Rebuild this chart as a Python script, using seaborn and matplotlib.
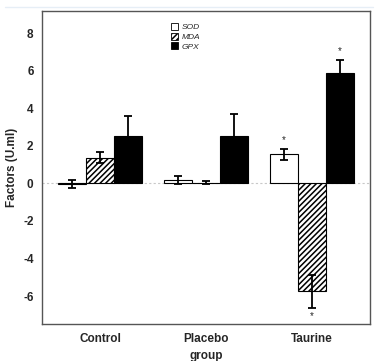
# Oxidative stress factors by group (SOD / MDA / GPX)
import numpy as np
import pandas as pd
import matplotlib
matplotlib.use("Agg")
import matplotlib.pyplot as plt
from matplotlib.patches import Patch
from matplotlib.lines import Line2D
import seaborn as sns

# -------------------- DATA --------------------------------
groups = ["Control", "Placebo", "Taurine"]
factors = ["SOD", "MDA", "GPX"]
sod = [-0.04, 0.18, 1.55]
mda = [1.38, 0.05, -5.75]
gpx = [2.52, 2.52, 5.88]
sod_err = [0.20, 0.22, 0.30]
mda_err = [0.28, 0.07, 0.87]
gpx_err = [1.08, 1.17, 0.70]
# asterisk marks (significant vs control)
sod_sig = [False, False, True]
mda_sig = [False, False, True]
gpx_sig = [False, False, True]

df = pd.DataFrame({
    "group": groups * 3,
    "factor": [f for f in factors for _ in groups],
    "value": sod + mda + gpx,
    "err": sod_err + mda_err + gpx_err,
    "sig": sod_sig + mda_sig + gpx_sig,
})

# -------------------- STYLE -------------------------------
sns.set_style("white")
plt.rcParams['font.family'] = ['Liberation Sans', 'DejaVu Sans']
plt.rcParams['hatch.linewidth'] = 1.1
plt.rcParams['axes.unicode_minus'] = False

fig = plt.figure(figsize=(3.88, 3.61), dpi=100)
ax = fig.add_axes([0.108, 0.102, 0.846, 0.868])

sns.barplot(data=df, x="group", y="value", hue="factor", order=groups,
            hue_order=factors, errorbar=None, width=0.8, ax=ax,
            palette=["white", "white", "black"], edgecolor="black",
            linewidth=0.8, legend=False)

hatches = {"SOD": "", "MDA": "//////", "GPX": ""}
for cont, fac in zip(ax.containers, factors):
    sub = df[df["factor"] == fac].set_index("group").loc[groups]
    for bar, (_, row) in zip(cont, sub.iterrows()):
        bar.set_hatch(hatches[fac])
        xc = bar.get_x() + bar.get_width() / 2
        ax.errorbar(xc, row["value"], yerr=row["err"], fmt="none",
                    ecolor="black", elinewidth=1.3, capsize=3, capthick=1.3,
                    zorder=5)
        if row["sig"]:
            sign = 1 if row["value"] >= 0 else -1
            ypos = row["value"] + sign * (row["err"] + 0.45)
            ax.text(xc, ypos, "*", ha="center", va="center", fontsize=7)

ax.axhline(0, color="#c8c8c8", linestyle=(0, (2, 2)), linewidth=0.8, zorder=0)

ax.set_ylim(-7.5, 9.2)
ax.set_xlim(-0.55, 2.55)
ax.set_yticks([-6, -4, -2, 0, 2, 4, 6, 8])
ax.set_ylabel("Factors (U.ml)", fontsize=8.5, fontweight="bold", labelpad=4)
ax.set_xlabel("group", fontsize=8.5, fontweight="bold", va="center")
ax.xaxis.set_label_coords(0.5, -0.1)
ax.tick_params(axis="both", direction="out", length=4, width=1,
               color="#444444", labelsize=8.5, pad=2)
ax.tick_params(axis="x", pad=2)
for lab in ax.get_xticklabels() + ax.get_yticklabels():
    lab.set_fontweight("bold")
for sp in ax.spines.values():
    sp.set_color("#555555")
    sp.set_linewidth(1)

handles = [Patch(facecolor="white", edgecolor="black", hatch=hatches[f],
                 linewidth=0.6) if f != "GPX" else
           Patch(facecolor="black", edgecolor="black", linewidth=0.6)
           for f in factors]
leg = ax.legend(handles, factors, loc="upper left",
                bbox_to_anchor=(0.37, 0.985), frameon=False,
                prop={"size": 6, "style": "italic"}, handlelength=0.9,
                handleheight=0.9, handletextpad=0.4, labelspacing=0.15)

# faint rule at the very top of the figure
fig.add_artist(Line2D([0.013, 0.962], [0.981, 0.981], color="#e6eef6",
                      linewidth=1, transform=fig.transFigure))

fig.savefig("out.png", dpi=100)
